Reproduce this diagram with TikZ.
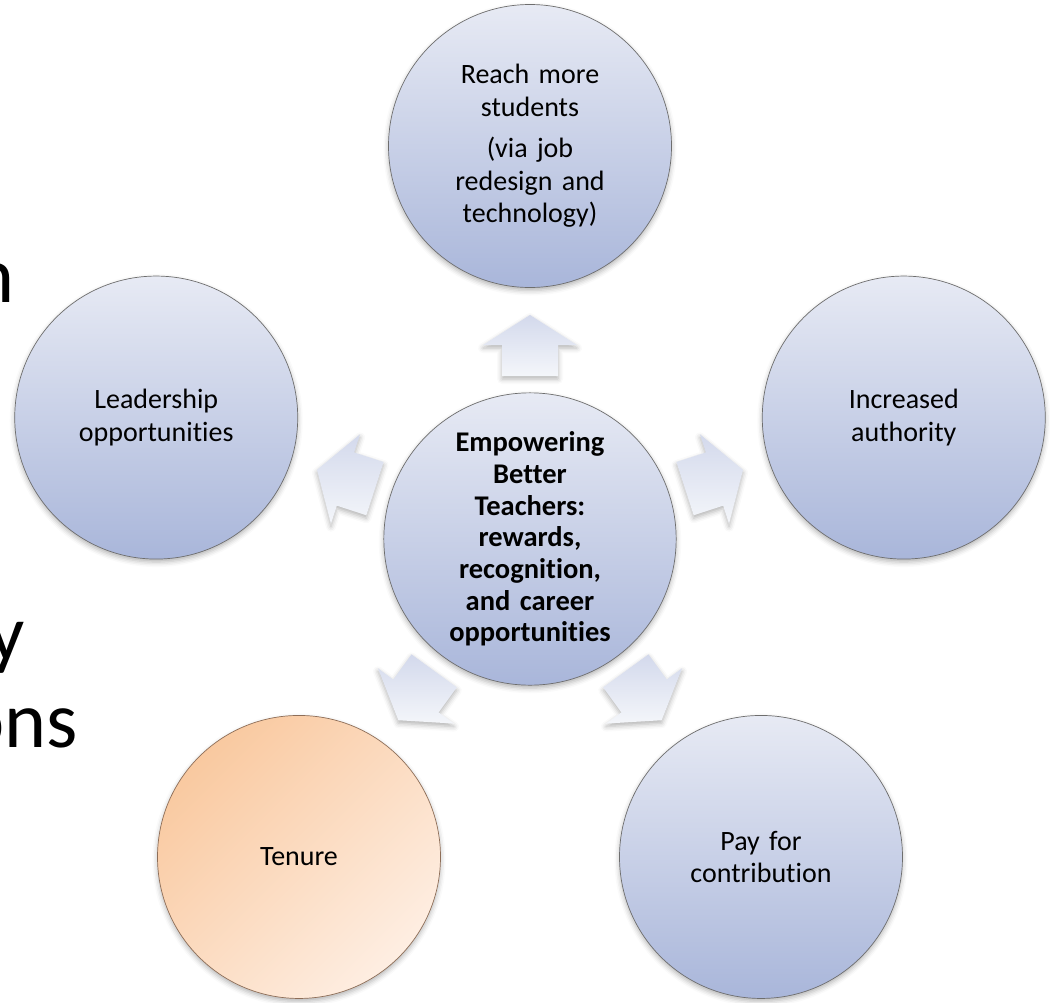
\documentclass[tikz,border=0pt]{standalone}
\usepackage{fontspec}
\setmainfont{Carlito}[Ligatures=NoCommon]
\usetikzlibrary{calc,shadows.blur}

\definecolor{circtop}{HTML}{E7EAF4}
\definecolor{circbot}{HTML}{A9B6DA}
\definecolor{circline}{HTML}{6E6E6E}
\definecolor{tentop}{HTML}{F9C9A0}
\definecolor{tenbot}{HTML}{FEEEE2}
\definecolor{tenline}{HTML}{8E6E58}
\definecolor{arrtop}{HTML}{D3D9EC}
\definecolor{arrbot}{HTML}{F4F6FA}

\tikzset{
  softshadow/.style={blur shadow={shadow xshift=0pt, shadow yshift=-3pt,
      shadow blur radius=5pt, shadow opacity=30}},
  bubble/.style={circle, minimum size=283pt, inner sep=0pt, draw=circline,
      line width=0.7pt, top color=circtop, bottom color=circbot,
      align=center, text width=210pt, softshadow,
      font=\fontsize{28}{32.5}\selectfont},
  hub/.style={bubble, minimum size=280pt, text width=200pt,
      font=\bfseries\fontsize{28.5}{31.7}\selectfont},
  tenurebubble/.style={bubble, top color=tentop, bottom color=tenbot,
      shading angle=45, draw=tenline},
  pointer/.style={top color=arrtop, bottom color=arrbot, softshadow},
  bigword/.style={inner sep=0pt, font=\fontsize{80}{96}\selectfont}
}

\begin{document}
\begin{tikzpicture}[x=1pt, y=1pt]
  \useasboundingbox (0,0) rectangle (1050,-1002);

  % fragments of the slide text, running off the left edge
  \node[bigword, anchor=base east] (w1) at (15,-302) {n};
  \node[bigword, anchor=base east] (w2) at (25,-660) {y};
  \node[bigword, anchor=base east] (w3) at (78,-747) {ons};

  % central idea
  \node[hub] (hub) at (530,-539)
    {Empowering\\Better\\Teachers:\\rewards,\\recognition,\\and career\\opportunities};

  % surrounding ideas
  \node[bubble] (reach) at ($(hub)+(90:393)$)
    {Reach more\\students\\[9pt](via job\\redesign and\\technology)};
  \node[bubble] (lead) at ($(hub)+(162:393)$) {Leadership\\opportunities};
  \node[tenurebubble] (tenure) at ($(hub)+(234:393)$) {Tenure};
  \node[bubble] (pay) at ($(hub)+(306:393)$) {Pay for\\contribution};
  \node[bubble] (auth) at ($(hub)+(18:393)$) {Increased\\authority};

  % block arrows pointing outward from the hub
  \foreach \a/\nm in {90/pa, 162/pb, 234/pc, 306/pd, 18/pe}{
    \coordinate (\nm) at ($(hub)+(\a:194)$);
    \path[pointer]
      ($(\nm)+(\a:-31)+(\a-90:-28)$) --
      ($(\nm)+(\a:0)+(\a-90:-28)$) --
      ($(\nm)+(\a:0)+(\a-90:-47)$) --
      ($(\nm)+(\a:30)$) --
      ($(\nm)+(\a:0)+(\a-90:47)$) --
      ($(\nm)+(\a:0)+(\a-90:28)$) --
      ($(\nm)+(\a:-31)+(\a-90:28)$) -- cycle;
  }
\end{tikzpicture}
\end{document}
